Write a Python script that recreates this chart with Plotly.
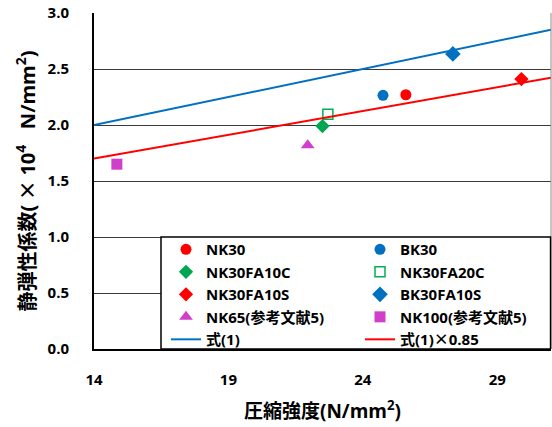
import plotly.graph_objects as go

# Measured static modulus vs. compressive strength
nk30_x, nk30_y = [25.6], [2.27]
bk30_x, bk30_y = [24.75], [2.265]
nk30fa10c_x, nk30fa10c_y = [22.5], [1.99]
nk30fa20c_x, nk30fa20c_y = [22.7], [2.095]
nk30fa10s_x, nk30fa10s_y = [29.9], [2.41]
bk30fa10s_x, bk30fa10s_y = [27.35], [2.635]
nk65_x, nk65_y = [21.95], [1.82]
nk100_x, nk100_y = [14.85], [1.65]

# Reference lines: Eq.(1) and Eq.(1) x 0.85 over the plotted strength range
eq_x = [14, 31]
eq1_y = [2.0, 2.85]
eq085_y = [1.7, 2.4225]

x_ticks = [14, 19, 24, 29]
y_ticks = [0.0, 0.5, 1.0, 1.5, 2.0, 2.5, 3.0]

RED = "#FF0000"
BLUE = "#0070C0"
GREEN = "#00A650"
MAGENTA = "#D03FCA"

FONT = "'Open Sans', 'Noto Sans CJK JP', sans-serif"
TIMES = "<span style='font-family:\"Noto Sans CJK JP\"'> × </span>"

fig = go.Figure()

def pts(x, y, name, symbol, color, size, legend, open_=False):
    marker = dict(symbol=symbol, size=size, color=color)
    if open_:
        marker = dict(symbol=symbol, size=size, color="rgba(0,0,0,0)",
                      line=dict(color=color, width=1.5))
    fig.add_trace(go.Scatter(x=x, y=y, mode="markers", name=name,
                             marker=marker, legend=legend))

# left legend column: legend, right legend column: legend2
pts(nk30_x, nk30_y, "NK30", "circle", RED, 11, "legend")
pts(bk30_x, bk30_y, "BK30", "circle", BLUE, 11, "legend2")
pts(nk30fa10c_x, nk30fa10c_y, "NK30FA10C", "diamond", GREEN, 11, "legend")
pts(nk30fa20c_x, nk30fa20c_y, "NK30FA20C", "square", "#00B050", 10, "legend2", open_=True)
pts(nk30fa10s_x, nk30fa10s_y, "NK30FA10S", "diamond", RED, 11, "legend")
pts(bk30fa10s_x, bk30fa10s_y, "BK30FA10S", "diamond", BLUE, 12, "legend2")
pts(nk65_x, nk65_y, "NK65(参考文献5)", "triangle-up", MAGENTA, 12, "legend")
pts(nk100_x, nk100_y, "NK100(参考文献5)", "square", MAGENTA, 11, "legend2")

fig.add_trace(go.Scatter(x=eq_x, y=eq1_y, mode="lines", name="式(1)",
                         line=dict(color=BLUE, width=2), legend="legend"))
fig.add_trace(go.Scatter(x=eq_x, y=eq085_y, mode="lines", name="式(1)" + TIMES.replace(" × ", "×") + "0.85",
                         line=dict(color=RED, width=2), legend="legend2"))

legend_common = dict(
    orientation="v", y=0.345, yanchor="top", xanchor="left",
    bgcolor="rgba(0,0,0,0)", borderwidth=0, tracegroupgap=0,
    font=dict(family=FONT, size=15, color="black", weight="bold"),
    itemwidth=30,
)

fig.update_layout(
    width=552, height=427,
    margin=dict(l=94, r=1, t=13, b=78),
    paper_bgcolor="white", plot_bgcolor="white",
    font=dict(family=FONT, size=15, color="black", weight="bold"),
    showlegend=True,
    legend=dict(x=(166 - 94) / 457, **legend_common),
    legend2=dict(x=(360 - 94) / 457, **legend_common),
    xaxis=dict(
        range=[14, 31], tickvals=x_ticks, ticktext=[str(v) for v in x_ticks],
        showgrid=False, zeroline=False,
        showline=True, linecolor="black", linewidth=2,
        ticks="", ticklabelstandoff=16,
        title=dict(text="圧縮強度(N/mm<sup>2</sup>)", standoff=17,
                   font=dict(family=FONT, size=19, weight="bold")),
    ),
    yaxis=dict(
        range=[0, 3], tickvals=y_ticks, ticktext=[f"{v:.1f}" for v in y_ticks],
        showgrid=True, gridcolor="#3a3a3a", gridwidth=1.3, zeroline=False,
        showline=True, linecolor="black", linewidth=2,
        ticks="", ticklabelstandoff=20,
        title=dict(text="静弾性係数(" + TIMES + "10<sup>4</sup>   N/mm<sup>2</sup>)", standoff=7,
                   font=dict(family=FONT, size=20, weight="bold")),
    ),
    shapes=[
        # right frame edge
        dict(type="line", xref="paper", yref="paper", x0=1, x1=1, y0=0, y1=1,
             line=dict(color="#8a8a8a", width=1)),
        # legend box
        dict(type="rect", xref="paper", yref="y", x0=(161 - 94) / 457, x1=0.999,
             y0=0, y1=1.0, fillcolor="white", line=dict(color="black", width=1.5),
             layer="above"),
    ],
)

fig.write_html("out.html")
